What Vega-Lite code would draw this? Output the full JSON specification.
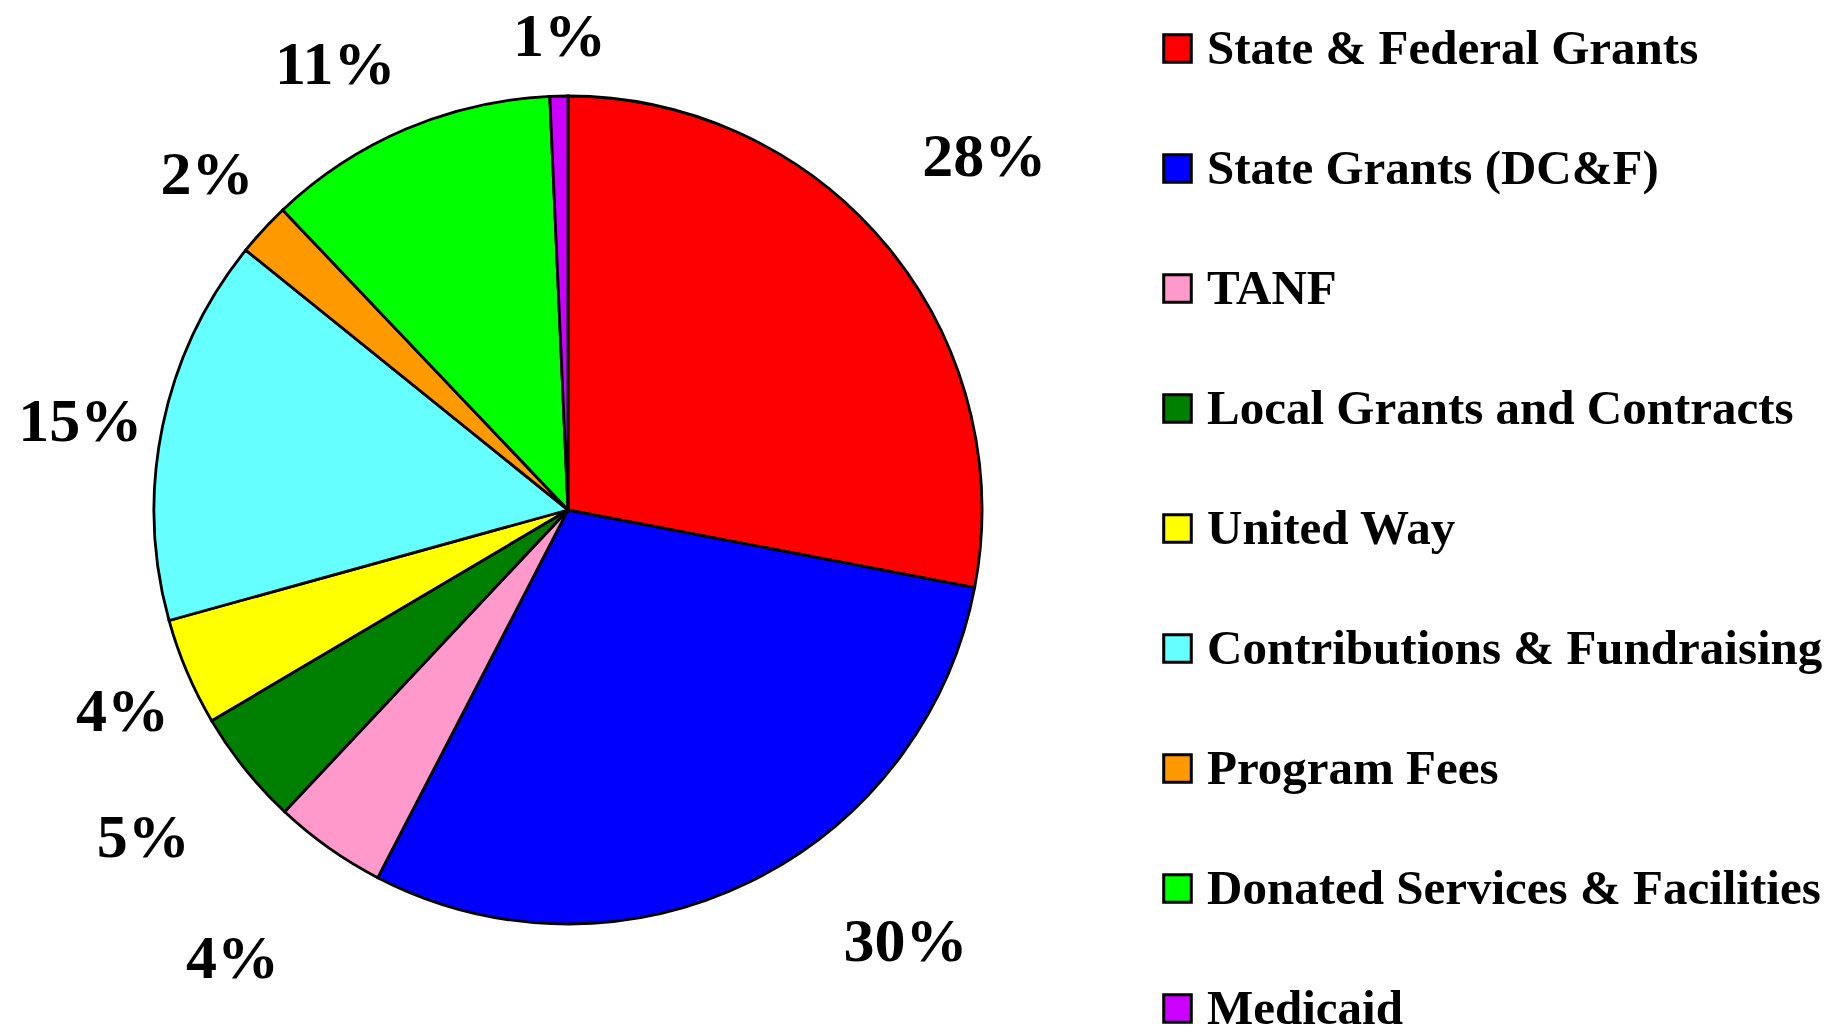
{
  "$schema": "https://vega.github.io/schema/vega-lite/v6.json",
  "width": 1136,
  "height": 1020,
  "autosize": {"type": "none"},
  "padding": {"left": 0, "top": 0, "right": 709, "bottom": 14},
  "background": "white",
  "config": {"view": {"stroke": null}},
  "data": {
    "values": [
      {"idx": 1, "source": "State & Federal Grants", "value": 28.0, "label": "28%"},
      {"idx": 2, "source": "State Grants (DC&F)", "value": 29.6, "label": "30%"},
      {"idx": 3, "source": "TANF", "value": 4.4, "label": "4%"},
      {"idx": 4, "source": "Local Grants and Contracts", "value": 4.5, "label": "5%"},
      {"idx": 5, "source": "United Way", "value": 4.2, "label": "4%"},
      {"idx": 6, "source": "Contributions & Fundraising", "value": 15.1, "label": "15%"},
      {"idx": 7, "source": "Program Fees", "value": 2.1, "label": "2%"},
      {"idx": 8, "source": "Donated Services & Facilities", "value": 11.4, "label": "11%"},
      {"idx": 9, "source": "Medicaid", "value": 0.7, "label": "1%"}
    ]
  },
  "encoding": {
    "theta": {"field": "value", "type": "quantitative", "stack": true},
    "order": {"field": "idx", "type": "quantitative"}
  },
  "layer": [
    {
      "mark": {"type": "arc", "radius": 414, "stroke": "black", "strokeWidth": 2.8},
      "encoding": {
        "color": {
          "field": "source",
          "type": "nominal",
          "scale": {
            "domain": ["State & Federal Grants", "State Grants (DC&F)", "TANF", "Local Grants and Contracts", "United Way", "Contributions & Fundraising", "Program Fees", "Donated Services & Facilities", "Medicaid"],
            "range": ["#FF0000", "#0000FF", "#FF99CC", "#008000", "#FFFF00", "#66FFFF", "#FF9900", "#00FF00", "#CC00FF"]
          },
          "legend": {
            "title": null,
            "orient": "none",
            "legendX": 1153,
            "legendY": 24,
            "symbolType": "square",
            "symbolSize": 760,
            "symbolStrokeColor": "black",
            "symbolStrokeWidth": 3,
            "symbolOpacity": 1,
            "labelFont": "Liberation Serif",
            "labelFontSize": 49,
            "labelFontWeight": "bold",
            "labelColor": "black",
            "labelLimit": 0,
            "labelOffset": 5,
            "rowPadding": 70,
            "padding": 0
          }
        }
      }
    },
    {
      "mark": {"type": "text", "radius": 548, "dx": -6, "dy": -4, "font": "Liberation Serif", "fontSize": 62, "fontWeight": "bold"},
      "encoding": {
        "detail": {"field": "source", "type": "nominal"},
        "color": {"value": "black"},
        "text": {"condition": {"test": "datum.idx == 1", "field": "label"}, "value": ""}
      }
    },
    {
      "mark": {"type": "text", "radius": 548, "dx": 98, "dy": -61, "font": "Liberation Serif", "fontSize": 62, "fontWeight": "bold"},
      "encoding": {
        "detail": {"field": "source", "type": "nominal"},
        "color": {"value": "black"},
        "text": {"condition": {"test": "datum.idx == 2", "field": "label"}, "value": ""}
      }
    },
    {
      "mark": {"type": "text", "radius": 548, "dx": -19, "dy": 2, "font": "Liberation Serif", "fontSize": 62, "fontWeight": "bold"},
      "encoding": {
        "detail": {"field": "source", "type": "nominal"},
        "color": {"value": "black"},
        "text": {"condition": {"test": "datum.idx == 3", "field": "label"}, "value": ""}
      }
    },
    {
      "mark": {"type": "text", "radius": 548, "dx": 3, "dy": -15, "font": "Liberation Serif", "fontSize": 62, "fontWeight": "bold"},
      "encoding": {
        "detail": {"field": "source", "type": "nominal"},
        "color": {"value": "black"},
        "text": {"condition": {"test": "datum.idx == 4", "field": "label"}, "value": ""}
      }
    },
    {
      "mark": {"type": "text", "radius": 495, "dx": 10, "dy": 8, "font": "Liberation Serif", "fontSize": 62, "fontWeight": "bold"},
      "encoding": {
        "detail": {"field": "source", "type": "nominal"},
        "color": {"value": "black"},
        "text": {"condition": {"test": "datum.idx == 5", "field": "label"}, "value": ""}
      }
    },
    {
      "mark": {"type": "text", "radius": 495, "dx": -3, "dy": 12, "font": "Liberation Serif", "fontSize": 62, "fontWeight": "bold"},
      "encoding": {
        "detail": {"field": "source", "type": "nominal"},
        "color": {"value": "black"},
        "text": {"condition": {"test": "datum.idx == 6", "field": "label"}, "value": ""}
      }
    },
    {
      "mark": {"type": "text", "radius": 495, "dx": 3, "font": "Liberation Serif", "fontSize": 62, "fontWeight": "bold"},
      "encoding": {
        "detail": {"field": "source", "type": "nominal"},
        "color": {"value": "black"},
        "text": {"condition": {"test": "datum.idx == 7", "field": "label"}, "value": ""}
      }
    },
    {
      "mark": {"type": "text", "radius": 495, "dx": -39, "dy": 11, "font": "Liberation Serif", "fontSize": 62, "fontWeight": "bold"},
      "encoding": {
        "detail": {"field": "source", "type": "nominal"},
        "color": {"value": "black"},
        "text": {"condition": {"test": "datum.idx == 8", "field": "label"}, "value": ""}
      }
    },
    {
      "mark": {"type": "text", "radius": 473, "dx": 2, "font": "Liberation Serif", "fontSize": 62, "fontWeight": "bold"},
      "encoding": {
        "detail": {"field": "source", "type": "nominal"},
        "color": {"value": "black"},
        "text": {"condition": {"test": "datum.idx == 9", "field": "label"}, "value": ""}
      }
    }
  ]
}
